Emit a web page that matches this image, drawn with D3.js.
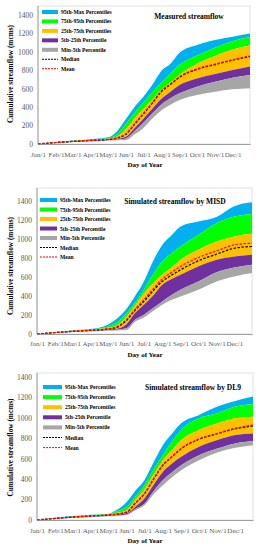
<!DOCTYPE html>
<html>
<head>
<meta charset="utf-8">
<script src="https://cdn.jsdelivr.net/npm/d3@7"></script>
<style>
body { margin: 0; background: #fff; }
svg { display: block; }
</style>
</head>
<body>
<div id="chart"></div>
<script>
// sample days (day of year) for all curves
const days = [0, 31, 59, 90, 120, 135, 151, 166, 181, 196, 212, 228, 243, 273, 304, 334, 364];
const monthDays = [0, 31, 59, 90, 120, 151, 181, 212, 243, 273, 304, 334];
const monthLabels = ['Jan/1', 'Feb/1', 'Mar/1', 'Apr/1', 'May/1', 'Jun/1', 'Jul/1', 'Aug/1', 'Sep/1', 'Oct/1', 'Nov/1', 'Dec/1'];
const yTicks = [0, 200, 400, 600, 800, 1000, 1200, 1400];
const legendLabels = ['95th-Max Percentiles', '75th-95th Percentiles', '25th-75th Percentiles', '5th-25th Percentile', 'Min-5th Percentile', 'Median', 'Mean'];
const titles = ['Measured streamflow', 'Simulated streamflow by MISD', 'Simulated streamflow by DL9'];

// measured
const max1 = [0, 22, 38, 52, 72, 134, 270, 405, 513, 640, 796, 875, 990, 1074, 1128, 1165, 1200];
const p95_1 = [0, 20, 35, 48, 62, 100, 220, 340, 450, 560, 670, 770, 860, 960, 1045, 1115, 1160];
const p75_1 = [0, 18, 32, 44, 56, 78, 160, 280, 380, 480, 590, 670, 750, 870, 955, 1025, 1070];
const median1 = [0, 16, 28, 39, 49, 62, 105, 215, 325, 440, 570, 650, 725, 810, 862, 910, 950];
const mean1 = [0, 16, 29, 40, 51, 65, 112, 222, 332, 447, 577, 655, 730, 815, 866, 914, 955];
const p25_1 = [0, 14, 25, 35, 45, 52, 78, 175, 275, 380, 490, 570, 640, 712, 760, 803, 840];
const p5_1 = [0, 12, 22, 31, 41, 46, 60, 140, 230, 330, 430, 500, 550, 622, 676, 720, 750];
const min1 = [0, 10, 19, 27, 36, 40, 42, 105, 175, 275, 365, 430, 477, 532, 568, 593, 604];

// MISD
const max2 = [0, 22, 38, 52, 98, 160, 260, 400, 553, 760, 938, 1040, 1131, 1183, 1232, 1345, 1387];
const p95_2 = [0, 20, 35, 48, 80, 120, 215, 330, 466, 620, 763, 850, 921, 1043, 1166, 1236, 1264];
const p75_2 = [0, 18, 32, 44, 65, 90, 180, 300, 430, 530, 623, 700, 781, 886, 973, 1026, 1054];
const median2 = [0, 15, 27, 38, 52, 70, 140, 250, 343, 450, 553, 620, 676, 770, 840, 903, 921];
const mean2 = [0, 16, 29, 40, 55, 75, 150, 260, 361, 470, 578, 650, 711, 805, 875, 938, 956];
const p25_2 = [0, 14, 25, 35, 46, 55, 100, 220, 308, 400, 518, 580, 623, 711, 781, 816, 833];
const p5_2 = [0, 12, 22, 31, 40, 45, 60, 150, 203, 270, 343, 410, 466, 553, 651, 700, 728];
const min2 = [0, 10, 19, 27, 35, 38, 42, 130, 175, 240, 308, 360, 396, 466, 553, 606, 641];

// DL9
const max3 = [0, 22, 38, 52, 62, 100, 177, 290, 390, 560, 733, 850, 946, 1028, 1110, 1165, 1208];
const p95_3 = [0, 20, 35, 48, 58, 85, 128, 230, 340, 490, 635, 770, 880, 995, 1044, 1110, 1133];
const p75_3 = [0, 18, 32, 44, 54, 70, 95, 200, 301, 440, 586, 690, 782, 880, 946, 995, 1011];
const median3 = [0, 16, 28, 39, 49, 58, 75, 165, 255, 395, 535, 622, 698, 790, 845, 893, 920];
const mean3 = [0, 16, 29, 40, 50, 60, 79, 170, 259, 400, 537, 625, 700, 792, 848, 897, 930];
const p25_3 = [0, 14, 25, 35, 44, 50, 65, 130, 210, 340, 471, 555, 619, 717, 782, 831, 848];
const p5_3 = [0, 12, 22, 31, 40, 45, 55, 110, 160, 280, 390, 470, 537, 635, 700, 750, 773];
const min3 = [0, 10, 19, 27, 36, 40, 48, 95, 144, 250, 340, 420, 488, 586, 661, 707, 733];

const bandColors = ['#00b0f0', '#00ff00', '#ffc000', '#7030a0', '#a6a6a6'];
const serif = '"Liberation Serif", "Times New Roman", serif';

let panels = [
    {title: titles[0], curves: [max1, p95_1, p75_1, p25_1, p5_1, min1], median: median1, mean: mean1,
     frameTop: 6, top: 15, bottom: 144, left: 38, right: 250, titleX: 189, titleY: 18.5,
     legendY: 12, legendStep: 9.45, legendX: 42, swatchW: 16, xLabelY: 156.5, dayY: 167, yLabelY: 74},
    {title: titles[1], curves: [max2, p95_2, p75_2, p25_2, p5_2, min2], median: median2, mean: mean2,
     frameTop: 188, top: 201, bottom: 334, left: 37, right: 252, titleX: 175, titleY: 203.5,
     legendY: 200, legendStep: 9.5, legendX: 40, swatchW: 17, xLabelY: 345.5, dayY: 357, yLabelY: 266},
    {title: titles[2], curves: [max3, p95_3, p75_3, p25_3, p5_3, min3], median: median3, mean: mean3,
     frameTop: 373, top: 377, bottom: 520, left: 37, right: 253, titleX: 193, titleY: 389.5,
     legendY: 387, legendStep: 10.1, legendX: 43, swatchW: 19, xLabelY: 532.5, dayY: 543, yLabelY: 447.5}
];

let svg = d3.select('#chart').append('svg').attr('width', 256).attr('height', 550);

let drawPanel = function(p) {
    let x = d3.scaleLinear().domain([0, 364]).range([p.left, p.right]);
    let y = d3.scaleLinear().domain([0, 1400]).range([p.bottom, p.top]);
    let g = svg.append('g');

    // plot area frame
    g.append('rect')
        .attr('x', p.left).attr('y', p.frameTop)
        .attr('width', p.right - p.left).attr('height', p.bottom - p.frameTop)
        .attr('fill', 'none').attr('stroke', '#d9d9d9').attr('stroke-width', 0.8);

    // percentile bands
    for (let b = 0; b < 5; b++) {
        let upper = p.curves[b], lower = p.curves[b + 1];
        let area = d3.area()
            .x(function(d, i) { return x(days[i]); })
            .y0(function(d, i) { return y(lower[i]); })
            .y1(function(d, i) { return y(upper[i]); })
            .curve(d3.curveMonotoneX);
        g.append('path').datum(days).attr('d', area).attr('fill', bandColors[b]);
    }

    let line = function(vals) {
        return d3.line()
            .x(function(d, i) { return x(days[i]); })
            .y(function(d, i) { return y(vals[i]); })
            .curve(d3.curveMonotoneX)(days);
    };
    g.append('path').attr('d', line(p.median)).attr('fill', 'none')
        .attr('stroke', '#000').attr('stroke-width', 1.2).attr('stroke-dasharray', '2.5,1.5');
    g.append('path').attr('d', line(p.mean)).attr('fill', 'none')
        .attr('stroke', '#ff0000').attr('stroke-width', 1.2).attr('stroke-dasharray', '2.5,1.5');

    // axes
    let yAxis = d3.axisLeft(y).tickValues(yTicks).tickFormat(d3.format('d')).tickSize(0).tickPadding(5);
    let ya = g.append('g').attr('transform', 'translate(' + p.left + ',0)').call(yAxis);
    ya.select('.domain').attr('stroke', '#888').attr('stroke-width', 0.8)
        .attr('d', 'M0,' + p.frameTop + 'V' + p.bottom);
    ya.selectAll('text').attr('font-family', serif).attr('font-size', '7.5px').attr('fill', '#595959');

    let xAxis = d3.axisBottom(x).tickValues(monthDays)
        .tickFormat(function(d, i) { return monthLabels[i]; }).tickSize(0).tickPadding(0);
    let xa = g.append('g').attr('transform', 'translate(0,' + p.bottom + ')').call(xAxis);
    xa.select('.domain').attr('stroke', '#888').attr('stroke-width', 0.8);
    xa.selectAll('text').attr('font-family', serif).attr('font-size', '7px').attr('fill', '#595959')
        .attr('dy', null).attr('y', p.xLabelY - p.bottom);

    // titles
    g.append('text').text(p.title)
        .attr('x', p.titleX).attr('y', p.titleY).attr('text-anchor', 'middle')
        .attr('font-family', serif).attr('font-size', '7.5px').attr('font-weight', 'bold');
    g.append('text').text('Day of Year')
        .attr('x', 145).attr('y', p.dayY).attr('text-anchor', 'middle')
        .attr('font-family', serif).attr('font-size', '7px').attr('font-weight', 'bold');
    g.append('text').text('Cumulative streamflow (mcms)')
        .attr('transform', 'translate(12.5,' + p.yLabelY + ') rotate(-90)').attr('text-anchor', 'middle')
        .attr('font-family', serif).attr('font-size', '7.3px').attr('font-weight', 'bold');

    // legend
    legendLabels.forEach(function(label, i) {
        let ly = p.legendY + i * p.legendStep;
        if (i < 5) {
            g.append('rect').attr('x', p.legendX).attr('y', ly - 2)
                .attr('width', p.swatchW).attr('height', 4).attr('fill', bandColors[i]);
        } else {
            g.append('line').attr('x1', p.legendX).attr('x2', p.legendX + p.swatchW)
                .attr('y1', ly).attr('y2', ly)
                .attr('stroke', i == 5 ? '#000' : '#ff0000').attr('stroke-width', 1)
                .attr('stroke-dasharray', '2,1');
        }
        g.append('text').text(label)
            .attr('x', p.legendX + p.swatchW + 3).attr('y', ly + 2)
            .attr('font-family', serif).attr('font-size', '5.6px').attr('font-weight', 'bold');
    });
};

panels.forEach(function(p) { drawPanel(p); });
</script>
</body>
</html>
